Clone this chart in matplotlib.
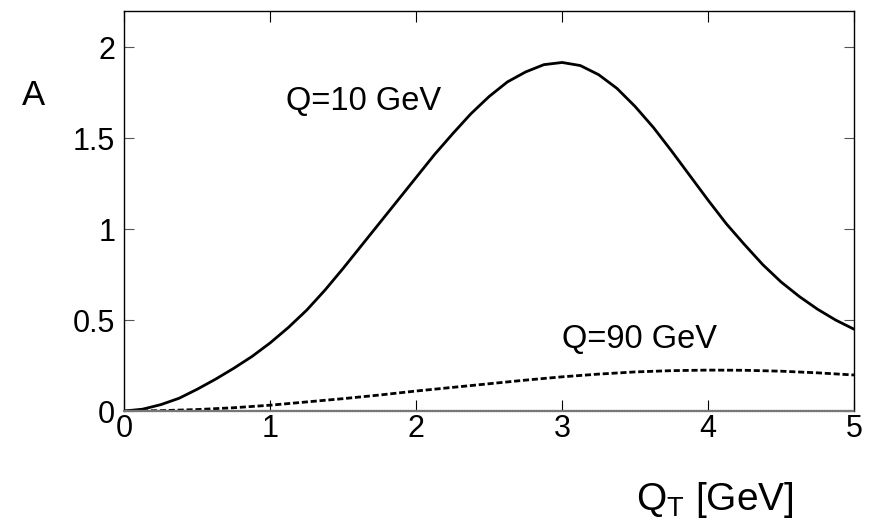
import matplotlib
matplotlib.use("Agg")
import matplotlib.pyplot as plt

plt.rcParams['font.family'] = ['Liberation Sans', 'DejaVu Sans']
plt.rcParams['mathtext.fontset'] = 'custom'
plt.rcParams['mathtext.rm'] = 'Liberation Sans'
plt.rcParams['mathtext.it'] = 'Liberation Sans'

# Q = 10 GeV curve (solid)
qt_10 = [0.0, 0.125, 0.25, 0.375, 0.5, 0.625, 0.75, 0.875, 1.0, 1.125, 1.25, 1.375,
         1.5, 1.625, 1.75, 1.875, 2.0, 2.125, 2.25, 2.375, 2.5, 2.625, 2.75, 2.875,
         3.0, 3.125, 3.25, 3.375, 3.5, 3.625, 3.75, 3.875, 4.0, 4.125, 4.25, 4.375,
         4.5, 4.625, 4.75, 4.875, 5.0]
a_10 = [0.0, 0.01, 0.035, 0.07, 0.12, 0.175, 0.235, 0.30, 0.375, 0.46, 0.555, 0.665,
        0.785, 0.91, 1.035, 1.16, 1.285, 1.41, 1.525, 1.635, 1.73, 1.81, 1.865, 1.905,
        1.917, 1.90, 1.85, 1.775, 1.675, 1.56, 1.43, 1.295, 1.16, 1.03, 0.915, 0.805,
        0.71, 0.63, 0.56, 0.50, 0.45]

# Q = 90 GeV curve (dashed)
qt_90 = [0.0, 0.25, 0.5, 0.75, 1.0, 1.25, 1.5, 1.75, 2.0, 2.25, 2.5, 2.75, 3.0,
         3.25, 3.5, 3.75, 4.0, 4.25, 4.5, 4.75, 5.0]
a_90 = [0.0, 0.002, 0.008, 0.018, 0.032, 0.05, 0.068, 0.088, 0.11, 0.13, 0.15, 0.17, 0.188,
        0.203, 0.215, 0.222, 0.225, 0.224, 0.219, 0.21, 0.198]

x_ticks = [0, 1, 2, 3, 4, 5]
x_tick_labels = ["0", "1", "2", "3", "4", "5"]
y_ticks = [0, 0.5, 1, 1.5, 2]
y_tick_labels = ["0", "0.5", "1", "1.5", "2"]

fig = plt.figure(figsize=(8.7, 5.2), dpi=100)
ax = fig.add_axes([0.1429, 0.2096, 0.8387, 0.7692])

ax.plot(qt_10, a_10, color='black', lw=2.0, solid_joinstyle='round')
ax.plot(qt_90, a_90, color='black', lw=2.0, linestyle=(0, (2.2, 1.0)))

ax.set_xlim(0, 5)
ax.set_ylim(0, 2.2)

ax.set_xticks(x_ticks)
ax.set_xticklabels(x_tick_labels)
ax.set_yticks(y_ticks)
ax.set_yticklabels(y_tick_labels)

ax.tick_params(axis='x', direction='in', top=True, bottom=True, length=8, width=0.8,
               color='black', labelsize=22, pad=2.5)
ax.tick_params(axis='y', direction='in', left=True, right=True, length=7.5, width=0.8,
               color='#555555', labelsize=22, pad=6.5)

for side in ['left', 'right', 'top']:
    ax.spines[side].set_linewidth(1.0)
    ax.spines[side].set_color('black')
ax.spines['bottom'].set_color('#777777')
ax.spines['bottom'].set_linewidth(1.6)
ax.spines['bottom'].set_linestyle((0, (0.6, 0.6)))

ax.text(1.11, 1.655, "Q=10 GeV", fontsize=23.5, ha='left', va='baseline')
ax.text(3.0, 0.346, "Q=90 GeV", fontsize=23.5, ha='left', va='baseline')

fig.text(22 / 870, 1 - 105 / 520, "A", fontsize=25, ha='left', va='baseline')
fig.text(636 / 870, 1 - 510 / 520, r"Q$_{\mathrm{T}}$ [GeV]", fontsize=28,
         ha='left', va='baseline')

fig.savefig("out.png", dpi=100)
